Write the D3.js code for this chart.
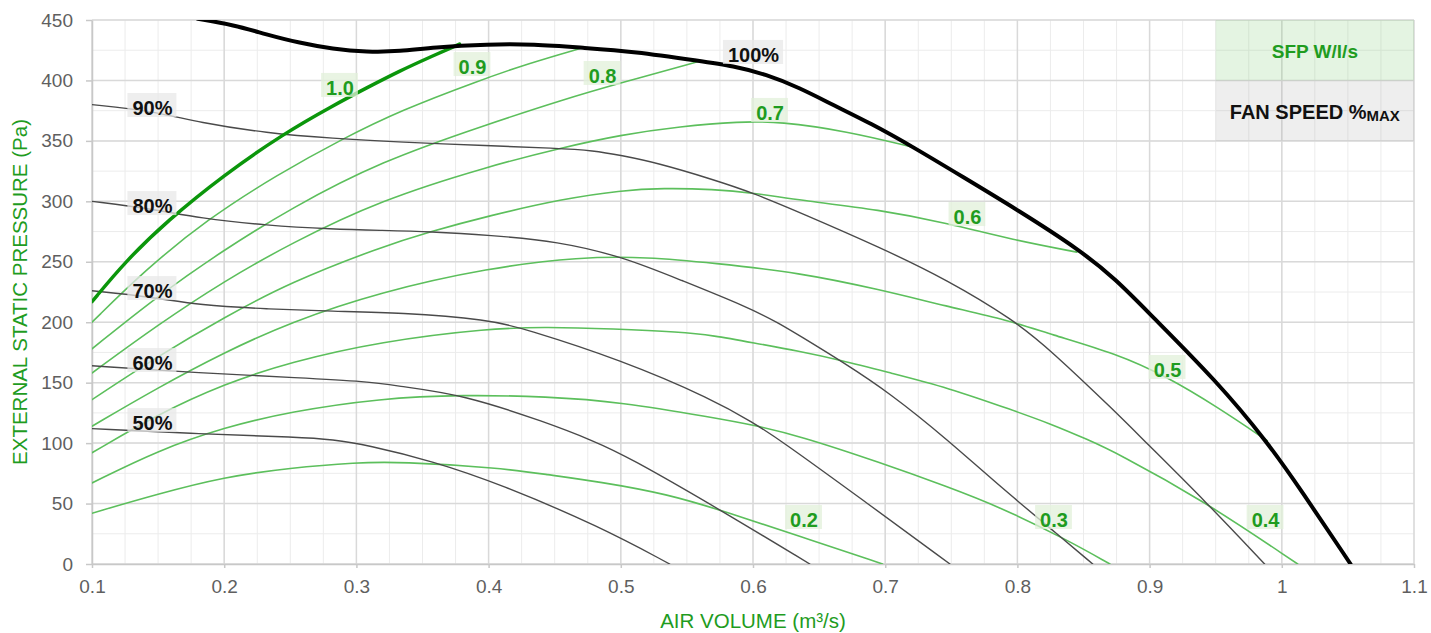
<!DOCTYPE html>
<html>
<head>
<meta charset="utf-8">
<script src="https://cdn.jsdelivr.net/npm/d3@7"></script>
<style>
  html, body { margin: 0; padding: 0; background: #ffffff; }
  svg { display: block; font-family: "Liberation Sans", Arial, Helvetica, sans-serif; }
</style>
</head>
<body>
<svg id="chart" width="1431" height="633"></svg>
<script>
// ---- axis ticks ----
const xTickValues = [0.1, 0.2, 0.3, 0.4, 0.5, 0.6, 0.7, 0.8, 0.9, 1.0, 1.1];
const xTickLabels = ["0.1", "0.2", "0.3", "0.4", "0.5", "0.6", "0.7", "0.8", "0.9", "1", "1.1"];
const yTickValues = [0, 50, 100, 150, 200, 250, 300, 350, 400, 450];
const yTickLabels = ["0", "50", "100", "150", "200", "250", "300", "350", "400", "450"];

// ---- fan curves: [air volume m³/s, static pressure Pa] ----
const fan100 = [[0.18,451],[0.207,446],[0.232,438],[0.257,431],[0.282,426],[0.308,423.5],[0.333,424],[0.358,427.5],[0.4,430],[0.434,430],[0.471,427],[0.51,424],[0.56,416],[0.585,412],[0.61,405],[0.635,394],[0.66,380],[0.69,364],[0.721,345],[0.759,320],[0.8,293],[0.847,260],[0.875,235],[0.9,207],[0.951,151],[0.989,101],[1.014,62],[1.052,0]];
const fan90 = [[0.1,380],[0.144,375],[0.182,365],[0.232,356.5],[0.282,352],[0.333,349],[0.4,346],[0.45,344],[0.48,342],[0.5,338],[0.527,332],[0.57,318],[0.6,307],[0.635,291],[0.696,262],[0.747,235],[0.797,202],[0.825,177],[0.875,125],[0.895,103],[0.943,51],[0.987,0]];
const fan80 = [[0.1,300],[0.144,294],[0.182,286],[0.232,280],[0.282,277],[0.318,276],[0.356,275],[0.401,272],[0.452,267],[0.502,254],[0.545,235],[0.595,213],[0.62,199],[0.635,189],[0.668,167],[0.704,141],[0.747,103],[0.787,64],[0.832,23],[0.857,0]];
const fan70 = [[0.1,226],[0.144,221],[0.182,214],[0.232,211],[0.282,209],[0.333,208],[0.401,202],[0.426,195],[0.5,169],[0.57,136],[0.6,117],[0.62,103],[0.683,53],[0.749,0]];
const fan60 = [[0.1,164],[0.182,158],[0.257,154],[0.308,151],[0.333,147],[0.381,140],[0.444,117],[0.479,102],[0.505,89],[0.575,45],[0.643,0]];
const fan50 = [[0.1,112],[0.182,107.5],[0.257,105],[0.282,103],[0.308,98.5],[0.358,85],[0.409,66],[0.484,31],[0.537,0]];

// ---- specific fan power curves (W/l/s) ----
const sfp10 = [[0.1,217],[0.125,250],[0.157,284],[0.2,322],[0.245,356],[0.282,379],[0.308,394],[0.333,408],[0.355,419],[0.378,430]];
const sfp09 = [[0.1,200],[0.14,243],[0.187,285],[0.24,322],[0.29,352],[0.333,375],[0.393,400],[0.43,414],[0.471,427]];
const sfp08 = [[0.1,178],[0.15,222],[0.2,260],[0.25,294],[0.318,333],[0.4,364],[0.456,384],[0.5,398],[0.56,416]];
const sfp07 = [[0.1,158],[0.15,198],[0.2,234],[0.25,265],[0.318,301],[0.4,329],[0.454,344],[0.5,355],[0.545,362],[0.59,366],[0.62,366],[0.671,358],[0.72,345]];
const sfp06 = [[0.1,136],[0.15,172],[0.2,204],[0.25,233],[0.318,262],[0.356,275],[0.4,288],[0.456,302],[0.5,309],[0.532,311],[0.57,310],[0.6,307],[0.635,301],[0.696,293],[0.747,282],[0.797,268],[0.845,258]];
const sfp05 = [[0.1,114],[0.15,146],[0.2,175],[0.25,200],[0.318,225],[0.4,245],[0.469,254],[0.52,254],[0.57,249],[0.635,241],[0.696,227],[0.747,213],[0.792,202],[0.825,190],[0.875,174],[0.913,155],[0.951,130],[0.989,102]];
const sfp04 = [[0.1,92],[0.15,124],[0.2,149],[0.25,167],[0.318,184],[0.401,195],[0.444,196],[0.494,194.5],[0.545,192],[0.57,189],[0.6,183],[0.635,176],[0.666,168.7],[0.704,158],[0.747,146],[0.797,127],[0.825,116],[0.853,103],[0.875,92],[0.94,53],[1.012,0]];
const sfp03 = [[0.1,67],[0.15,94],[0.2,113],[0.25,126],[0.318,137],[0.381,140],[0.444,138.5],[0.5,134],[0.57,121],[0.6,115],[0.635,106],[0.696,84],[0.747,64],[0.787,47],[0.8375,20],[0.87,0]];
const sfp02 = [[0.1,42],[0.15,58],[0.2,72],[0.25,79.5],[0.3,84],[0.333,84.6],[0.409,79.5],[0.444,74],[0.484,68],[0.535,58],[0.58,43],[0.635,23],[0.698,0]];

// ---- curve labels (anchor = text centre x, baseline y, in data units) ----
const fanLabelText = ["100%", "90%", "80%", "70%", "60%", "50%"];
const fanLabelX = [0.6004, 0.1457, 0.1457, 0.1457, 0.1457, 0.1457];
const fanLabelY = [415.3, 371.4, 290.3, 220.0, 160.5, 110.8];
const sfpLabelText = ["1.0", "0.9", "0.8", "0.7", "0.6", "0.5", "0.4", "0.3", "0.2"];
const sfpLabelX = [0.2876, 0.3878, 0.4862, 0.6129, 0.7622, 0.9136, 0.9877, 0.8277, 0.6386];
const sfpLabelY = [388.0, 405.3, 397.9, 367.3, 281.2, 154.7, 30.6, 30.6, 30.6];

// ---- legend ----
const legendSfpText = "SFP W/l/s";
const legendFanText = "FAN SPEED %";
const legendFanSub = "MAX";

// ---- layout ----
const svg = d3.select("#chart");
const plot = { left: 92, right: 1414, top: 20, bottom: 564 };
const x = d3.scaleLinear().domain([0.1, 1.1]).range([plot.left, plot.right]);
const y = d3.scaleLinear().domain([0, 450]).range([plot.bottom, plot.top]);

const GREEN_TEXT = "#1f9c1f";
const GREEN_LINE = "#5cbf5c";
const GREEN_BOLD = "#0b960b";

// minor grid every 0.025 m³/s and 25 Pa
const xMinor = d3.range(0, 41).map(i => 0.1 + i * 0.025);
const yMinor = d3.range(0, 19).map(i => i * 25);

const grid = svg.append("g");
grid.selectAll("line.xm").data(xMinor).join("line")
  .attr("x1", d => x(d)).attr("x2", d => x(d))
  .attr("y1", plot.top).attr("y2", plot.bottom)
  .attr("stroke", "#ececec").attr("stroke-width", 1);
grid.selectAll("line.ym").data(yMinor).join("line")
  .attr("x1", plot.left).attr("x2", plot.right)
  .attr("y1", d => y(d)).attr("y2", d => y(d))
  .attr("stroke", "#ececec").attr("stroke-width", 1);
grid.selectAll("line.xM").data(xTickValues).join("line")
  .attr("x1", d => x(d)).attr("x2", d => x(d))
  .attr("y1", plot.top).attr("y2", plot.bottom)
  .attr("stroke", "#d9d9d9").attr("stroke-width", 1.5);
grid.selectAll("line.yM").data(yTickValues).join("line")
  .attr("x1", plot.left).attr("x2", plot.right)
  .attr("y1", d => y(d)).attr("y2", d => y(d))
  .attr("stroke", "#d9d9d9").attr("stroke-width", 1.5);

// legend cells (translucent so the grid shows through)
svg.append("rect")
  .attr("x", x(0.95)).attr("y", y(450))
  .attr("width", x(1.1) - x(0.95)).attr("height", y(400) - y(450))
  .attr("fill", "rgb(120,200,110)").attr("fill-opacity", 0.2);
svg.append("rect")
  .attr("x", x(0.95)).attr("y", y(400))
  .attr("width", x(1.1) - x(0.95)).attr("height", y(350) - y(400))
  .attr("fill", "rgb(150,150,150)").attr("fill-opacity", 0.16);
svg.append("text")
  .attr("x", (x(0.95) + x(1.1)) / 2).attr("y", 58)
  .attr("text-anchor", "middle").attr("font-size", 19).attr("font-weight", "bold")
  .attr("fill", GREEN_TEXT).text(legendSfpText);
const fanLegend = svg.append("text")
  .attr("x", (x(0.95) + x(1.1)) / 2).attr("y", 119)
  .attr("text-anchor", "middle").attr("font-size", 20).attr("font-weight", "bold")
  .attr("fill", "#111");
fanLegend.append("tspan").text(legendFanText);
fanLegend.append("tspan").attr("font-size", 15).attr("dy", 2).text(legendFanSub);

// axes
const xAxis = d3.axisBottom(x).tickValues(xTickValues)
  .tickFormat((d, i) => xTickLabels[i]).tickSize(4).tickPadding(12).tickSizeOuter(0);
const yAxis = d3.axisLeft(y).tickValues(yTickValues)
  .tickFormat((d, i) => yTickLabels[i]).tickSize(6).tickPadding(13).tickSizeOuter(0);

const gx = svg.append("g").attr("transform", `translate(0,${plot.bottom})`).call(xAxis);
const gy = svg.append("g").attr("transform", `translate(${plot.left},0)`).call(yAxis);
[gx, gy].forEach(g => {
  g.select(".domain").attr("stroke", "#c8c8c8").attr("stroke-width", 1.5);
  g.selectAll(".tick line").attr("stroke", "#c8c8c8").attr("stroke-width", 1.5);
  g.selectAll(".tick text").attr("fill", "#5f5f5f").attr("font-size", 19)
    .attr("font-family", "\"Liberation Sans\", Arial, sans-serif");
});

// axis titles
svg.append("text")
  .attr("x", x(0.6)).attr("y", 628)
  .attr("text-anchor", "middle").attr("font-size", 20.5)
  .attr("fill", GREEN_TEXT).text("AIR VOLUME (m³/s)");
svg.append("text")
  .attr("transform", `translate(27,${(plot.top + plot.bottom) / 2}) rotate(-90)`)
  .attr("text-anchor", "middle").attr("font-size", 20.5)
  .attr("fill", GREEN_TEXT).text("EXTERNAL STATIC PRESSURE (Pa)");

// curves (B-spline smoothing through the read-off points)
svg.append("clipPath").attr("id", "plot-clip").append("rect")
  .attr("x", plot.left).attr("y", plot.top)
  .attr("width", plot.right - plot.left).attr("height", plot.bottom - plot.top);

const line = d3.line().x(d => x(d[0])).y(d => y(d[1])).curve(d3.curveBasis);
const curves = svg.append("g").attr("clip-path", "url(#plot-clip)").attr("fill", "none")
  .attr("stroke-linejoin", "round").attr("stroke-linecap", "round");

[sfp09, sfp08, sfp07, sfp06, sfp05, sfp04, sfp03, sfp02].forEach(s => {
  curves.append("path").attr("d", line(s)).attr("stroke", GREEN_LINE).attr("stroke-width", 1.6);
});
[fan90, fan80, fan70, fan60, fan50].forEach(s => {
  curves.append("path").attr("d", line(s)).attr("stroke", "#4a4a4a").attr("stroke-width", 1.4);
});
curves.append("path").attr("d", line(sfp10)).attr("stroke", GREEN_BOLD).attr("stroke-width", 3.5);
curves.append("path").attr("d", line(fan100)).attr("stroke", "#000").attr("stroke-width", 4);

// curve labels with soft backgrounds
function drawLabels(texts, xs, ys, boxFill, textFill) {
  const g = svg.append("g");
  texts.forEach((t, i) => {
    const cx = x(xs[i]), by = y(ys[i]);
    const box = g.append("rect");
    const txt = g.append("text")
      .attr("x", cx).attr("y", by).attr("text-anchor", "middle")
      .attr("font-size", 20).attr("font-weight", "bold").attr("fill", textFill).text(t);
    const w = txt.node().getComputedTextLength();
    box.attr("x", cx - w / 2 - 5).attr("y", by - 22)
      .attr("width", w + 9).attr("height", 24)
      .attr("fill", boxFill).attr("fill-opacity", 0.75);
  });
}
drawLabels(fanLabelText, fanLabelX, fanLabelY, "#e8e8e8", "#111");
drawLabels(sfpLabelText, sfpLabelX, sfpLabelY, "#e2f0da", GREEN_TEXT);
</script>
</body>
</html>
